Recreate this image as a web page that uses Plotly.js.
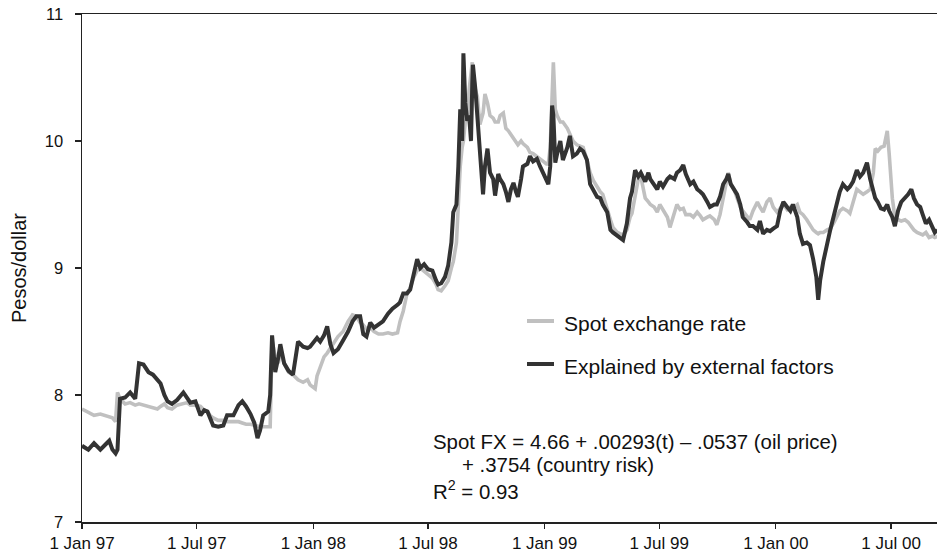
<!DOCTYPE html>
<html>
<head>
<meta charset="utf-8">
<script src="https://cdn.plot.ly/plotly-3.0.1.min.js"></script>
<style>html,body{margin:0;padding:0;background:#fff;}#chart{width:937px;height:556px;}</style>
</head>
<body>
<div id="chart"></div>
<script>
const dates = [
'1997-01-01','1997-01-11','1997-01-20','1997-01-30','1997-02-07','1997-02-13','1997-02-18','1997-02-23','1997-02-26','1997-03-02','1997-03-10','1997-03-18','1997-03-26','1997-04-01','1997-04-08','1997-04-16','1997-04-23','1997-04-30','1997-05-05','1997-05-11','1997-05-16','1997-05-23','1997-05-31','1997-06-10','1997-06-16','1997-06-21','1997-06-29','1997-07-07','1997-07-13','1997-07-18','1997-07-22','1997-07-27','1997-08-04','1997-08-12','1997-08-18','1997-08-28','1997-09-05','1997-09-11','1997-09-17','1997-09-24','1997-09-30','1997-10-05','1997-10-09','1997-10-14','1997-10-22','1997-10-25','1997-10-28','1997-11-02','1997-11-07','1997-11-10','1997-11-16','1997-11-23','1997-11-30','1997-12-08','1997-12-16','1997-12-23','1997-12-27',
'1998-01-04','1998-01-07','1998-01-12','1998-01-18','1998-01-23','1998-01-28','1998-02-02','1998-02-09','1998-02-17','1998-02-25','1998-03-04','1998-03-10','1998-03-16','1998-03-21','1998-03-26','1998-04-01','1998-04-07','1998-04-14','1998-04-21','1998-04-29','1998-05-06','1998-05-14','1998-05-18','1998-05-23','1998-05-29','1998-06-03','1998-06-08','1998-06-14','1998-06-19','1998-06-25','1998-07-01','1998-07-08','1998-07-14','1998-07-17','1998-07-22','1998-07-28','1998-08-02','1998-08-07','1998-08-10','1998-08-15','1998-08-18','1998-08-21','1998-08-24','1998-08-26','1998-08-29','1998-09-01','1998-09-04','1998-09-07','1998-09-09','1998-09-10','1998-09-14','1998-09-17','1998-09-21','1998-09-26','1998-09-29','1998-10-03','1998-10-07','1998-10-12','1998-10-15','1998-10-20','1998-10-23','1998-10-28','1998-11-01','1998-11-05','1998-11-09','1998-11-13','1998-11-17','1998-11-20','1998-11-25','1998-11-28','1998-12-05','1998-12-09','1998-12-14','1998-12-20','1998-12-25','1998-12-30',
'1999-01-04','1999-01-07','1999-01-10','1999-01-13','1999-01-15','1999-01-18','1999-01-21','1999-01-26','1999-01-30','1999-02-06','1999-02-10','1999-02-15','1999-02-21','1999-02-26','1999-03-03','1999-03-09','1999-03-14','1999-03-19','1999-03-25','1999-03-30','1999-04-03','1999-04-10','1999-04-15','1999-04-19','1999-04-26','1999-04-30','1999-05-05','1999-05-11','1999-05-16','1999-05-19','1999-05-24','1999-05-29','1999-06-02','1999-06-09','1999-06-14','1999-06-17','1999-06-23','1999-06-28','1999-07-02','1999-07-07','1999-07-14','1999-07-18','1999-07-25','1999-07-29','1999-08-03','1999-08-08','1999-08-12','1999-08-19','1999-08-24','1999-08-30','1999-09-04','1999-09-08','1999-09-15','1999-09-19','1999-09-26','1999-09-30','1999-10-05','1999-10-10','1999-10-15','1999-10-18','1999-10-22','1999-10-27','1999-11-01','1999-11-06','1999-11-10','1999-11-17','1999-11-21','1999-11-26','1999-12-03','1999-12-07','1999-12-12','1999-12-18','1999-12-23','1999-12-28',
'2000-01-03','2000-01-08','2000-01-13','2000-01-19','2000-01-24','2000-01-28','2000-02-04','2000-02-08','2000-02-13','2000-02-19','2000-02-24','2000-02-29','2000-03-05','2000-03-08','2000-03-11','2000-03-16','2000-03-22','2000-03-27','2000-04-02','2000-04-07','2000-04-11','2000-04-16','2000-04-23','2000-04-27','2000-05-02','2000-05-08','2000-05-13','2000-05-18','2000-05-24','2000-05-29','2000-06-03','2000-06-06','2000-06-10','2000-06-15','2000-06-20','2000-06-25','2000-06-28','2000-07-03','2000-07-07','2000-07-12','2000-07-17','2000-07-23','2000-07-28','2000-08-02','2000-08-06','2000-08-11','2000-08-16','2000-08-20','2000-08-25','2000-08-30','2000-09-04','2000-09-08','2000-09-12'
];

const spotRate = [
7.89,7.86,7.84,7.85,7.84,7.83,7.82,7.79,8.02,7.97,7.93,7.94,7.92,7.93,7.92,7.91,7.90,7.89,7.91,7.93,
7.90,7.89,7.92,7.93,7.94,7.92,7.92,7.91,7.88,7.87,7.84,7.82,7.80,7.80,7.79,7.79,7.79,7.78,7.77,7.77,
7.76,7.75,7.75,7.75,7.75,7.75,8.43,8.30,8.25,8.35,8.25,8.18,8.16,8.12,8.10,8.12,8.08,8.05,8.15,8.22,
8.30,8.33,8.37,8.40,8.46,8.50,8.58,8.63,8.62,8.57,8.55,8.52,8.53,8.50,8.48,8.48,8.49,8.48,8.49,8.58,
8.66,8.80,8.84,8.92,8.98,9.00,8.97,8.95,8.92,8.87,8.83,8.82,8.86,8.90,9.00,9.05,9.20,9.50,9.80,9.95,
10.00,10.15,10.20,10.40,10.55,10.62,10.55,10.40,10.35,10.13,10.22,10.37,10.30,10.20,10.18,10.15,10.15,10.20,10.22,10.10,
10.08,10.05,10.02,9.98,9.97,10.00,9.98,9.95,9.91,9.90,9.88,9.86,9.84,9.82,9.82,9.95,10.40,10.62,10.25,10.20,
10.15,10.15,10.10,10.05,10.00,9.97,9.96,9.95,9.85,9.75,9.69,9.64,9.60,9.58,9.45,9.38,9.32,9.28,9.27,9.26,
9.30,9.40,9.43,9.55,9.70,9.72,9.55,9.52,9.50,9.48,9.44,9.50,9.46,9.40,9.32,9.45,9.50,9.46,9.47,9.42,
9.42,9.40,9.44,9.41,9.38,9.40,9.41,9.38,9.34,9.42,9.55,9.70,9.75,9.66,9.62,9.55,9.48,9.45,9.40,9.38,
9.45,9.52,9.48,9.44,9.52,9.55,9.48,9.44,9.47,9.50,9.46,9.48,9.47,9.50,9.44,9.42,9.38,9.34,9.30,9.28,
9.27,9.28,9.28,9.30,9.31,9.36,9.42,9.45,9.47,9.45,9.43,9.52,9.62,9.60,9.58,9.60,9.62,9.75,9.94,9.92,
9.95,9.96,10.08,9.90,9.55,9.40,9.38,9.37,9.38,9.36,9.32,9.30,9.28,9.27,9.26,9.28,9.24,9.25,9.24,9.25
];

const explained = [
7.60,7.57,7.62,7.57,7.61,7.64,7.57,7.54,7.57,7.97,7.98,8.02,7.97,8.25,8.24,8.18,8.16,8.12,8.09,8.00,
7.95,7.93,7.96,8.02,7.98,7.94,7.95,7.84,7.88,7.87,7.82,7.76,7.75,7.76,7.84,7.84,7.92,7.95,7.91,7.85,
7.78,7.66,7.72,7.84,7.87,8.00,8.47,8.18,8.30,8.40,8.25,8.19,8.16,8.42,8.38,8.37,8.38,8.43,8.45,8.42,
8.47,8.54,8.40,8.33,8.36,8.43,8.50,8.58,8.62,8.62,8.48,8.46,8.57,8.53,8.56,8.58,8.64,8.68,8.71,8.73,
8.80,8.80,8.83,8.95,9.07,9.00,9.03,8.99,8.98,8.90,8.87,8.88,8.93,9.02,9.20,9.44,9.50,9.80,10.25,10.00,
10.69,10.30,10.16,10.20,10.00,10.45,10.60,10.40,10.19,9.85,9.58,9.80,9.94,9.75,9.70,9.57,9.74,9.70,9.66,9.60,
9.52,9.62,9.67,9.60,9.56,9.70,9.80,9.82,9.88,9.84,9.86,9.80,9.75,9.70,9.66,9.80,10.28,10.20,9.83,9.90,
10.00,9.85,9.95,10.04,9.88,9.90,9.94,9.92,9.85,9.66,9.62,9.56,9.55,9.50,9.44,9.30,9.28,9.25,9.24,9.22,
9.35,9.55,9.60,9.77,9.72,9.75,9.68,9.75,9.70,9.65,9.62,9.68,9.64,9.70,9.72,9.70,9.75,9.77,9.81,9.74,
9.66,9.68,9.62,9.60,9.58,9.52,9.48,9.50,9.50,9.56,9.66,9.70,9.74,9.66,9.62,9.58,9.50,9.40,9.36,9.33,
9.33,9.30,9.37,9.27,9.30,9.29,9.31,9.33,9.45,9.52,9.48,9.45,9.50,9.40,9.27,9.19,9.20,9.18,9.07,8.93,
8.75,8.90,9.05,9.20,9.30,9.42,9.52,9.60,9.66,9.62,9.64,9.68,9.77,9.72,9.75,9.83,9.70,9.62,9.55,9.52,
9.47,9.46,9.50,9.45,9.40,9.33,9.45,9.52,9.55,9.58,9.62,9.55,9.50,9.48,9.42,9.35,9.38,9.33,9.28,9.30
];

const seriesNames = ['Spot exchange rate', 'Explained by external factors'];
const tickDates = ['1997-01-01','1997-07-01','1998-01-01','1998-07-01','1999-01-01','1999-07-01','2000-01-01','2000-07-01'];
const tickLabels = ['1 Jan 97','1 Jul 97','1 Jan 98','1 Jul 98','1 Jan 99','1 Jul 99','1 Jan 00','1 Jul 00'];
const yTicks = [7, 8, 9, 10, 11];
const yTitle = 'Pesos/dollar';
const equationLines = [
  'Spot FX = 4.66 + .00293(t) \u2013 .0537 (oil price)',
  '+ .3754 (country risk)',
  'R<sup>2</sup> = 0.93'
];

const FONT = 'Liberation Sans, Arial, Helvetica, sans-serif';
const GRAY = '#c0c0c0';
const DARK = '#333333';

const traces = [
  {x: dates, y: spotRate, name: seriesNames[0], type: 'scatter', mode: 'lines',
   line: {color: GRAY, width: 3.6}, showlegend: false, hoverinfo: 'skip'},
  {x: dates, y: explained, name: seriesNames[1], type: 'scatter', mode: 'lines',
   line: {color: DARK, width: 4}, showlegend: false, hoverinfo: 'skip'}
];

function px2x(px) { return (px - 82) / 855; }
function py2y(py) { return (522 - py) / 508; }

const layout = {
  width: 937, height: 556,
  margin: {l: 82, r: 0, t: 14, b: 34, pad: 0},
  paper_bgcolor: '#fff', plot_bgcolor: '#fff',
  font: {family: FONT, color: '#111'},
  showlegend: false,
  xaxis: {
    type: 'date', range: ['1997-01-01', '2000-09-11 12:00'],
    tickvals: tickDates, ticktext: tickLabels,
    ticks: 'outside', ticklen: 5, tickwidth: 1.3, tickcolor: '#222',
    showline: true, linecolor: '#222', linewidth: 1.5, mirror: true,
    showgrid: false, zeroline: false,
    tickfont: {family: FONT, size: 17, color: '#111'}
  },
  yaxis: {
    range: [7, 11], tickvals: yTicks, ticktext: yTicks.map(String),
    ticks: 'outside', ticklen: 6, tickwidth: 1.3, tickcolor: '#222',
    ticklabelstandoff: 8,
    showline: true, linecolor: '#222', linewidth: 1.5,
    showgrid: false, zeroline: false,
    tickfont: {family: FONT, size: 16.5, color: '#111'},
    title: {text: yTitle, font: {family: FONT, size: 20, color: '#111'}, standoff: 13}
  },
  shapes: [
    {type: 'line', xref: 'paper', yref: 'paper', x0: px2x(527), x1: px2x(554), y0: py2y(321), y1: py2y(321),
     line: {color: GRAY, width: 4}},
    {type: 'line', xref: 'paper', yref: 'paper', x0: px2x(527), x1: px2x(554), y0: py2y(364), y1: py2y(364),
     line: {color: DARK, width: 4}}
  ],
  annotations: [
    {text: seriesNames[0], xref: 'paper', yref: 'paper', x: px2x(562), y: py2y(323), xanchor: 'left', yanchor: 'middle',
     showarrow: false, font: {family: FONT, size: 21, color: '#111'}},
    {text: seriesNames[1], xref: 'paper', yref: 'paper', x: px2x(562), y: py2y(366), xanchor: 'left', yanchor: 'middle',
     showarrow: false, font: {family: FONT, size: 21, color: '#111'}},
    {text: equationLines[0], xref: 'paper', yref: 'paper', x: px2x(431), y: py2y(442), xanchor: 'left', yanchor: 'middle',
     showarrow: false, font: {family: FONT, size: 20.4, color: '#111'}},
    {text: equationLines[1], xref: 'paper', yref: 'paper', x: px2x(460), y: py2y(465), xanchor: 'left', yanchor: 'middle',
     showarrow: false, font: {family: FONT, size: 20.4, color: '#111'}},
    {text: equationLines[2], xref: 'paper', yref: 'paper', x: px2x(431), y: py2y(490), xanchor: 'left', yanchor: 'middle',
     showarrow: false, font: {family: FONT, size: 20.4, color: '#111'}}
  ]
};

Plotly.newPlot('chart', traces, layout, {displayModeBar: false, staticPlot: true});
</script>
</body>
</html>
